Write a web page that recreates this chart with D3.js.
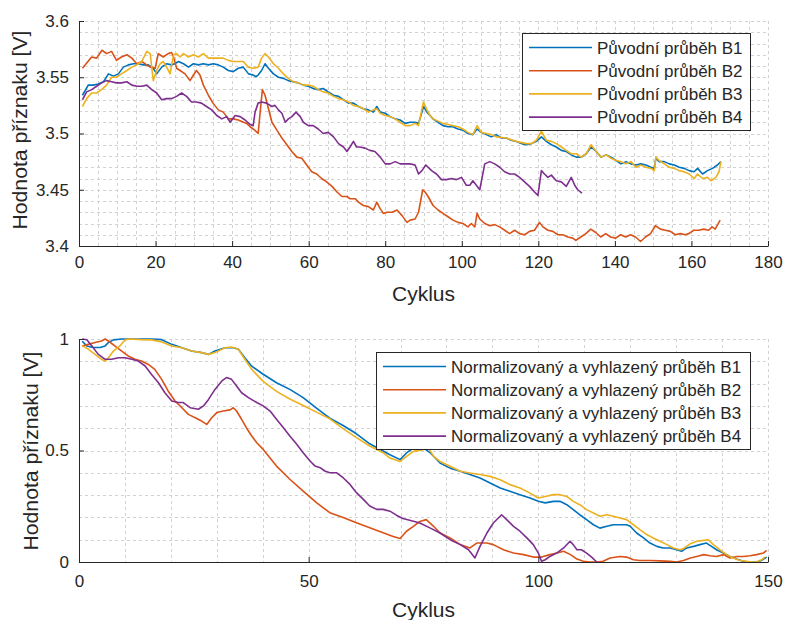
<!DOCTYPE html>
<html>
<head>
<meta charset="utf-8">
<script src="https://cdn.jsdelivr.net/npm/d3@7"></script>
<style>
  body { margin: 0; background: #fff; }
  text { font-family: "Liberation Sans", Arial, Helvetica, sans-serif; fill: #262626; }
</style>
</head>
<body>
<svg id="chart" width="785" height="620"></svg>
<script>
// series colours (MATLAB default order)
var colors = ['#0072BD', '#D95319', '#EDB120', '#7E2F8E'];

// ---- top panel: raw curves, [cycle, value] ----
var rawB1 = [[0.9,3.534],[1.6,3.538],[2.4,3.543],[3.7,3.543],[5,3.544],[6.4,3.546],[7.7,3.553],[9,3.551],[10.3,3.553],[11.6,3.559],[12.9,3.561],[14.2,3.562],[15.5,3.562],[16.8,3.561],[18.1,3.561],[19.4,3.558],[20.3,3.553],[21.6,3.559],[22.9,3.562],[24.2,3.561],[25,3.562],[26,3.564],[27.3,3.562],[28.6,3.559],[29.9,3.562],[31.2,3.561],[32.5,3.562],[33.8,3.561],[35.1,3.562],[36.4,3.561],[37.7,3.559],[39,3.556],[40.3,3.555],[41.6,3.558],[42.9,3.559],[44.3,3.553],[45.5,3.552],[46.3,3.5505],[46.8,3.552],[47.7,3.556],[48.6,3.562],[49.5,3.558],[50.8,3.553],[52.1,3.55],[53.4,3.549],[54.7,3.547],[56,3.546],[57.3,3.545],[58.6,3.543],[59.9,3.542],[61.2,3.54],[62.5,3.539],[63.8,3.54],[65.1,3.537],[66.5,3.534],[67.8,3.533],[69.1,3.53],[70.4,3.527],[71.7,3.527],[73,3.524],[74.3,3.522],[75.6,3.521],[76.9,3.519],[77.8,3.524],[78.7,3.519],[80,3.518],[81.3,3.515],[82.6,3.513],[83.9,3.512],[85.2,3.509],[86.5,3.51],[87.8,3.51],[88.7,3.509],[89.6,3.519],[90,3.524],[90.9,3.519],[91.7,3.516],[92.5,3.513],[93.8,3.51],[95.1,3.507],[96.4,3.506],[97.7,3.506],[99,3.504],[100.3,3.503],[101.6,3.5],[102.9,3.499],[104,3.504],[105.1,3.501],[106.4,3.499],[107.7,3.497],[109,3.499],[110.3,3.496],[111.6,3.496],[112.9,3.494],[114.2,3.493],[115.6,3.491],[116.9,3.49],[118.2,3.491],[119.5,3.493],[120.8,3.497],[122.1,3.493],[123.4,3.49],[124.7,3.488],[126,3.485],[127.3,3.484],[128.6,3.481],[129.9,3.479],[131.2,3.479],[132.5,3.482],[133.8,3.488],[135.1,3.484],[136.4,3.479],[137.7,3.481],[139,3.479],[140.3,3.476],[141.6,3.473],[142.9,3.475],[144.2,3.473],[145.5,3.472],[146.8,3.473],[148.1,3.472],[149.4,3.47],[150.3,3.469],[150.7,3.478],[151.6,3.475],[152.9,3.475],[154.2,3.473],[155.5,3.472],[156.8,3.47],[158.1,3.469],[159.4,3.467],[160.7,3.466],[161.6,3.469],[162.9,3.464],[164.2,3.467],[165.5,3.469],[166.8,3.472],[167.7,3.475]];
var rawB2 = [[0.9,3.558],[3.3,3.568],[4.6,3.567],[6,3.574],[7.2,3.571],[8.5,3.573],[9.8,3.565],[11.1,3.568],[12.5,3.57],[13.8,3.567],[15.1,3.562],[16.4,3.564],[17.7,3.561],[18.6,3.559],[19.9,3.558],[20.7,3.571],[22,3.568],[23.3,3.571],[24.2,3.572],[24.8,3.567],[25.5,3.558],[26.4,3.556],[27.7,3.553],[29,3.547],[29.9,3.552],[30.7,3.556],[31.6,3.552],[32.5,3.543],[33.8,3.534],[35,3.527],[36.4,3.521],[37.7,3.519],[39,3.513],[40.3,3.513],[41.6,3.512],[43,3.51],[43.8,3.509],[44.7,3.506],[45.9,3.503],[46.8,3.5],[47.9,3.539],[48.6,3.534],[49.5,3.522],[50.4,3.51],[51.7,3.503],[53,3.496],[54.3,3.49],[55.6,3.484],[56.9,3.479],[58.2,3.478],[59.5,3.472],[60.8,3.466],[62.1,3.464],[63.4,3.46],[64.7,3.457],[66.1,3.453],[67.4,3.448],[68.7,3.444],[70,3.444],[70.8,3.442],[72.2,3.442],[73,3.439],[74.3,3.436],[75.6,3.435],[76.9,3.432],[77.8,3.439],[78.7,3.433],[79.5,3.429],[80.5,3.43],[81.8,3.43],[83.1,3.432],[84.4,3.427],[85.7,3.421],[86.5,3.423],[87.8,3.424],[88.7,3.43],[89.8,3.45],[90.4,3.448],[91.2,3.444],[92.5,3.436],[93.8,3.432],[95.1,3.429],[96.4,3.426],[97.7,3.423],[99,3.421],[100.3,3.42],[101.6,3.417],[102.5,3.42],[103.4,3.417],[104,3.429],[104.7,3.424],[106,3.42],[107.3,3.418],[108.6,3.419],[109.9,3.417],[111.2,3.414],[112.5,3.411],[113.8,3.414],[115.1,3.411],[116.4,3.41],[117.7,3.413],[119,3.414],[120.3,3.421],[121.2,3.417],[122.5,3.414],[123.8,3.413],[125.1,3.41],[126.4,3.41],[127.7,3.408],[129,3.407],[129.8,3.405],[131.1,3.408],[132.4,3.411],[133.7,3.415],[135,3.412],[136.3,3.408],[137.6,3.411],[138.9,3.408],[140.2,3.407],[141.5,3.41],[142.8,3.408],[144.1,3.41],[145.4,3.408],[146.7,3.404],[148,3.408],[149.3,3.411],[150.6,3.418],[151.9,3.415],[153.2,3.414],[154.5,3.413],[155.8,3.41],[157.1,3.411],[158.4,3.41],[159.3,3.411],[160.6,3.414],[161.9,3.414],[163.2,3.415],[164.5,3.414],[165.4,3.417],[166.2,3.415],[167.5,3.423]];
var rawB3 = [[0.9,3.524],[2,3.531],[3.3,3.536],[4.6,3.536],[5.9,3.539],[7.2,3.543],[8.5,3.55],[9.8,3.55],[11.1,3.553],[12.5,3.556],[13.8,3.559],[15.1,3.561],[16.4,3.564],[17.7,3.573],[18.6,3.571],[19.4,3.547],[20.3,3.556],[21.2,3.562],[22,3.564],[22.9,3.559],[23.8,3.553],[24.7,3.57],[25.5,3.571],[26.4,3.568],[27.3,3.571],[28.6,3.568],[29.9,3.57],[31.2,3.568],[32.5,3.571],[33.8,3.567],[35.1,3.567],[36.4,3.567],[37.7,3.567],[39,3.565],[40.3,3.564],[41.6,3.564],[42.9,3.564],[44.2,3.559],[45.5,3.558],[46.8,3.559],[47.7,3.567],[48.6,3.571],[49.5,3.568],[50.8,3.562],[52.1,3.558],[53.4,3.553],[54.7,3.549],[56,3.546],[57.3,3.545],[58.6,3.543],[59.9,3.543],[61.2,3.542],[62.5,3.539],[63.8,3.537],[65.1,3.536],[66.5,3.533],[67.8,3.531],[69.1,3.53],[70.4,3.528],[71.7,3.525],[73,3.524],[74.3,3.522],[75.6,3.519],[76.9,3.521],[77.8,3.522],[78.7,3.518],[80,3.516],[81.3,3.515],[82.6,3.513],[83.9,3.51],[85.2,3.507],[86.5,3.507],[87.8,3.509],[88.7,3.507],[89.6,3.522],[90,3.528],[90.9,3.521],[91.7,3.516],[92.5,3.513],[95.1,3.509],[99,3.506],[100.3,3.504],[101.6,3.501],[102.9,3.499],[104,3.507],[105.1,3.501],[106.4,3.5],[107.7,3.499],[109,3.497],[111.6,3.496],[114.2,3.493],[116.9,3.491],[118.2,3.491],[119.5,3.494],[120.8,3.502],[122.1,3.494],[123.4,3.493],[124.7,3.491],[126,3.488],[127.3,3.485],[128.6,3.482],[129.9,3.482],[131.2,3.479],[132.5,3.482],[133.8,3.49],[135.1,3.484],[136.4,3.479],[137.7,3.481],[139,3.478],[140.3,3.476],[141.6,3.475],[142.9,3.473],[144.2,3.475],[145.5,3.47],[146.8,3.472],[148.1,3.47],[149.4,3.469],[150.3,3.467],[150.7,3.479],[151.6,3.476],[152.9,3.473],[154.2,3.47],[155.5,3.469],[156.8,3.467],[158.1,3.466],[159.4,3.464],[160.7,3.46],[161.6,3.464],[162.9,3.46],[164.2,3.461],[165.1,3.458],[166.4,3.461],[167.2,3.466],[167.7,3.475]];
var rawB4 = [[0.9,3.53],[2,3.537],[3.3,3.539],[4.6,3.542],[5.9,3.545],[7.2,3.547],[8.5,3.546],[9.8,3.545],[11.1,3.545],[12.5,3.546],[13.8,3.543],[15.1,3.542],[16.4,3.542],[17.7,3.543],[19,3.539],[20.3,3.536],[21.6,3.53],[22.9,3.531],[24.2,3.531],[25.5,3.533],[26.8,3.536],[28.1,3.533],[29.4,3.528],[30.7,3.528],[32,3.527],[33.3,3.524],[34.7,3.521],[36,3.516],[37.3,3.513],[38.6,3.515],[39.5,3.51],[40.8,3.516],[42.1,3.515],[43.4,3.512],[44.7,3.508],[45.5,3.507],[46,3.519],[46.8,3.527],[47.7,3.528],[49,3.527],[50.4,3.524],[51.2,3.525],[52.1,3.521],[53,3.518],[53.9,3.51],[54.7,3.513],[55.6,3.515],[56.7,3.519],[57.8,3.515],[58.6,3.51],[59.9,3.507],[61.2,3.507],[62.5,3.504],[63.8,3.5],[65.1,3.501],[66.5,3.497],[67.8,3.491],[69.1,3.488],[70,3.484],[70.8,3.488],[71.7,3.493],[72.5,3.488],[73.4,3.488],[74.7,3.487],[76,3.485],[77.3,3.484],[78.7,3.479],[80,3.473],[81.3,3.473],[82.6,3.475],[83.9,3.473],[85.2,3.473],[86.5,3.473],[87.8,3.472],[88.7,3.464],[89.6,3.467],[90.6,3.472],[92.1,3.467],[93.4,3.464],[94.7,3.459],[96,3.459],[97.3,3.46],[98.6,3.459],[99.9,3.461],[101.2,3.454],[102.1,3.454],[102.9,3.458],[103.8,3.454],[104.7,3.45],[106,3.473],[107.3,3.475],[108.6,3.473],[109.9,3.47],[111.2,3.466],[112.5,3.464],[113.8,3.464],[115.1,3.461],[116.4,3.457],[117.7,3.453],[119,3.448],[119.9,3.445],[120.8,3.467],[121.6,3.464],[122.5,3.461],[123.4,3.463],[124.7,3.458],[126,3.457],[127.3,3.453],[128.6,3.461],[129.5,3.454],[130.3,3.45],[131.4,3.447]];
var rawNames = ['Původní průběh B1', 'Původní průběh B2', 'Původní průběh B3', 'Původní průběh B4'];
var rawXTicks = [0, 20, 40, 60, 80, 100, 120, 140, 160, 180];
var rawYTicks = [3.4, 3.45, 3.5, 3.55, 3.6];

// ---- bottom panel: normalised + smoothed curves, [cycle, value] ----
var normB1 = [[0.7,0.99],[1.7,0.969],[3.1,0.962],[4.6,0.962],[5.7,0.969],[6.4,0.984],[7.5,0.996],[9.3,1],[11.5,1],[13.6,1],[15.8,1],[18,0.997],[20.2,0.976],[22.4,0.961],[24.5,0.946],[26.7,0.939],[28.2,0.931],[29.6,0.946],[31.8,0.961],[33.6,0.961],[34.7,0.954],[36.1,0.916],[37.6,0.878],[40.1,0.842],[43,0.804],[45.9,0.774],[48.8,0.737],[51.7,0.69],[54.6,0.645],[57.5,0.612],[60.4,0.575],[63.3,0.53],[66.2,0.498],[67.7,0.481],[69.9,0.459],[71.3,0.489],[72.8,0.511],[75,0.511],[76.5,0.489],[78.6,0.444],[80.8,0.421],[83,0.407],[85.1,0.392],[87.3,0.377],[89.5,0.354],[91.7,0.332],[93.8,0.317],[96,0.302],[98.2,0.287],[100,0.272],[101.5,0.265],[103.3,0.272],[104.7,0.272],[106.2,0.257],[107.6,0.235],[109,0.212],[110.5,0.19],[112,0.167],[113.4,0.152],[114.9,0.16],[116.3,0.167],[117.8,0.167],[119.2,0.167],[120,0.16],[121.4,0.13],[122.9,0.108],[124.3,0.085],[125.8,0.07],[127.2,0.063],[128.7,0.063],[130.1,0.055],[131.2,0.048],[132.3,0.063],[133.8,0.07],[135.2,0.078],[136.6,0.085],[137.7,0.07],[138.8,0.055],[140.3,0.04],[141.7,0.025],[143.2,0.013],[144.6,0.003],[146.1,0],[147.5,0],[148.6,0.007],[149.7,0.022]];
var normB2 = [[0.7,0.969],[2,0.976],[3.5,0.984],[4.9,0.991],[5.7,1],[6.4,0.991],[7.8,0.969],[9.3,0.946],[10.7,0.924],[12.2,0.909],[13.6,0.901],[15.1,0.886],[16.5,0.864],[18,0.819],[19.4,0.767],[20.9,0.722],[22.4,0.692],[23.8,0.662],[25.3,0.647],[26.7,0.632],[27.8,0.617],[28.9,0.647],[30,0.67],[31.4,0.677],[32.9,0.682],[33.6,0.692],[34.3,0.677],[35.4,0.64],[36.5,0.6],[37.6,0.565],[38.7,0.535],[40.1,0.505],[43,0.43],[45.9,0.371],[48.8,0.318],[51.7,0.266],[54.6,0.221],[57.5,0.199],[60.4,0.176],[63.3,0.154],[66.2,0.131],[68.4,0.114],[69.9,0.105],[71.3,0.138],[72.8,0.16],[74.2,0.182],[75.6,0.19],[77.2,0.16],[78.6,0.13],[80.8,0.108],[83,0.078],[85.1,0.063],[86.6,0.085],[88.8,0.085],[90.2,0.078],[92.4,0.055],[94.6,0.04],[96.8,0.033],[98.9,0.022],[100.7,0.022],[102.5,0.033],[104.1,0.04],[105.5,0.048],[107,0.033],[108.4,0.013],[109.8,0.003],[111.2,0],[112.7,0],[114.1,0.003],[115.6,0.018],[117.8,0.025],[119.2,0.022],[120.7,0.01],[122.1,0.007],[124.3,0.007],[126.5,0.005],[128.7,0.003],[130.1,0],[131.6,0.007],[133.1,0.018],[134.5,0.025],[136,0.033],[137.4,0.028],[138.8,0.025],[140.3,0.033],[141.7,0.018],[143.2,0.025],[144.6,0.025],[146.1,0.028],[147.5,0.033],[149,0.04],[149.7,0.052]];
var normB3 = [[0.7,0.969],[2,0.955],[3.5,0.931],[4.9,0.909],[5.7,0.901],[6.4,0.916],[7.5,0.946],[8.9,0.969],[10,0.996],[11.1,1],[13.6,0.997],[15.8,0.996],[18,0.987],[20.2,0.969],[22.4,0.961],[24.5,0.946],[26.7,0.939],[28.2,0.931],[29.6,0.939],[31.8,0.961],[33.2,0.964],[34.7,0.954],[36.1,0.909],[37.6,0.864],[40.1,0.81],[43,0.765],[45.9,0.731],[48.8,0.702],[51.7,0.672],[54.6,0.642],[57.5,0.598],[60.4,0.558],[63.3,0.52],[66.2,0.49],[67.7,0.466],[69.9,0.451],[71.3,0.474],[72.8,0.496],[75,0.504],[76.1,0.511],[77.2,0.474],[78.6,0.451],[80.8,0.429],[83,0.407],[85.1,0.399],[87.3,0.392],[89.5,0.384],[91.7,0.369],[93.8,0.347],[96,0.332],[98.2,0.309],[100,0.287],[101.5,0.294],[103.3,0.302],[104.7,0.302],[106.2,0.294],[107.6,0.272],[109,0.257],[110.5,0.235],[112,0.22],[113.4,0.205],[114.9,0.212],[116.3,0.205],[117.8,0.197],[119.2,0.19],[120.7,0.167],[122.1,0.145],[123.6,0.123],[125,0.108],[126.5,0.093],[128,0.078],[129.4,0.063],[130.8,0.055],[131.6,0.06],[133.1,0.082],[134.5,0.093],[136,0.097],[137,0.1],[138.1,0.078],[139.5,0.055],[141,0.033],[142.4,0.018],[143.9,0.007],[145.3,0.003],[146.7,0],[147.5,0],[148.6,0.01],[149.3,0.022]];
var normB4 = [[0.7,1],[1.7,0.997],[2.8,0.969],[4.2,0.931],[5.7,0.909],[7.1,0.909],[8.6,0.916],[10,0.916],[11.5,0.909],[12.9,0.901],[14.4,0.879],[15.8,0.841],[17.3,0.804],[18.7,0.759],[20.2,0.722],[21.6,0.715],[22.7,0.715],[24.2,0.692],[26,0.685],[27.1,0.7],[28.2,0.729],[29.6,0.774],[31.1,0.812],[32.1,0.827],[33.2,0.819],[34.3,0.789],[35.4,0.759],[36.9,0.737],[38.7,0.715],[40.1,0.7],[41.6,0.677],[43,0.64],[44.5,0.602],[45.9,0.565],[47.4,0.528],[48.8,0.49],[50.3,0.453],[51.4,0.43],[52.5,0.423],[53.5,0.408],[54.6,0.4],[56.1,0.4],[57.5,0.378],[59,0.348],[60.4,0.311],[61.9,0.281],[63.3,0.251],[64.8,0.236],[66.2,0.236],[67.7,0.228],[69.1,0.21],[70.5,0.195],[72,0.187],[74.2,0.175],[76.5,0.152],[78.6,0.13],[80.8,0.1],[83,0.078],[84.8,0.055],[86.2,0.018],[87.3,0.07],[88.8,0.13],[90.2,0.175],[92,0.212],[93.1,0.19],[94.6,0.16],[96,0.138],[97.5,0.108],[98.9,0.078],[100,0.04],[100.7,0.003],[101.5,0.01],[102.5,0.025],[104,0.04],[105.5,0.063],[106.9,0.093],[107.6,0.078],[108.4,0.055],[109.4,0.055],[110.5,0.04],[111.6,0.022],[112.7,0]];
var normNames = ['Normalizovaný a vyhlazený průběh B1', 'Normalizovaný a vyhlazený průběh B2',
                 'Normalizovaný a vyhlazený průběh B3', 'Normalizovaný a vyhlazený průběh B4'];
var normXTicks = [0, 50, 100, 150];
var normYTicks = [0, 0.5, 1];

var svg = d3.select('#chart');
svg.append('rect').attr('width', 785).attr('height', 620).attr('fill', '#fff');

function drawPanel(opt) {
    var x = d3.scaleLinear().domain(opt.xDomain).range([79, 768]);
    var y = d3.scaleLinear().domain(opt.yDomain).range([opt.bottom, opt.top]);
    var g = svg.append('g');

    // dashed grid, minor and major look alike
    var grid = g.append('g').attr('stroke', '#d2d2d2').attr('stroke-width', 1).attr('stroke-dasharray', '3,3');
    grid.selectAll('line.v').data(opt.xGrid).enter().append('line')
        .attr('x1', function (d) { return Math.round(x(d)) + 0.5; })
        .attr('x2', function (d) { return Math.round(x(d)) + 0.5; })
        .attr('y1', opt.top).attr('y2', opt.bottom);
    grid.selectAll('line.h').data(opt.yGrid).enter().append('line')
        .attr('y1', function (d) { return Math.round(y(d)) + 0.5; })
        .attr('y2', function (d) { return Math.round(y(d)) + 0.5; })
        .attr('x1', 79).attr('x2', 768);

    // curves
    var line = d3.line().x(function (d) { return x(d[0]); }).y(function (d) { return y(d[1]); });
    g.selectAll('path.series').data(opt.series).enter().append('path')
        .attr('fill', 'none').attr('stroke-width', 1.6).attr('stroke-linejoin', 'round')
        .attr('stroke', function (d, i) { return colors[i]; })
        .attr('d', line);

    // axes, ticks pointing inwards
    var xAxis = d3.axisBottom(x).tickValues(opt.xTicks).tickSize(-5).tickSizeOuter(0).tickPadding(opt.xPad);
    var yAxis = d3.axisLeft(y).tickValues(opt.yTicks).tickSize(-5).tickSizeOuter(0).tickPadding(10)
        .tickFormat(function (d) { return String(+d.toFixed(2)); });
    var gx = g.append('g').attr('transform', 'translate(0,' + opt.bottom + ')').call(xAxis);
    var gy = g.append('g').attr('transform', 'translate(79,0)').call(yAxis);
    [gx, gy].forEach(function (a) {
        a.select('.domain').attr('stroke', '#262626');
        a.selectAll('.tick line').attr('stroke', '#262626');
        a.selectAll('.tick text').attr('fill', '#262626').attr('font-size', 17)
            .attr('font-family', '"Liberation Sans", Arial, sans-serif');
    });

    g.append('text').attr('x', 423.5).attr('y', opt.xLabelY).attr('text-anchor', 'middle')
        .attr('font-size', 21).text('Cyklus');
    g.append('text').attr('transform', 'translate(' + opt.yLabelX + ',' + opt.yLabelMid + ') rotate(-90)')
        .attr('text-anchor', 'middle').attr('font-size', 20)
        .attr('textLength', 199).attr('lengthAdjust', 'spacingAndGlyphs')
        .text('Hodnota příznaku [V]');

    // legend
    var lg = g.append('g');
    lg.append('rect').attr('x', opt.legend.x + 0.5).attr('y', opt.legend.y + 0.5)
        .attr('width', opt.legend.w).attr('height', opt.legend.h)
        .attr('fill', '#fff').attr('stroke', '#262626').attr('stroke-width', 1);
    opt.names.forEach(function (name, i) {
        var ry = opt.legend.y + 14.5 + i * 23.2;
        lg.append('line').attr('x1', opt.legend.x + 7).attr('x2', opt.legend.x + 70)
            .attr('y1', ry).attr('y2', ry).attr('stroke', colors[i]).attr('stroke-width', 1.6);
        lg.append('text').attr('x', opt.legend.x + 75).attr('y', ry + 6)
            .attr('font-size', 17).text(name);
    });
}

drawPanel({
    xDomain: [0, 180], yDomain: [3.4, 3.6], top: 21, bottom: 246,
    xGrid: d3.range(0, 181, 5), yGrid: d3.range(0, 21).map(function (i) { return 3.4 + i * 0.01; }),
    xTicks: rawXTicks, yTicks: rawYTicks, xPad: 10,
    series: [rawB1, rawB2, rawB3, rawB4], names: rawNames,
    xLabelY: 301, yLabelX: 27, yLabelMid: 130,
    legend: { x: 522, y: 33, w: 228, h: 97 }
});

drawPanel({
    xDomain: [0, 150], yDomain: [0, 1], top: 339, bottom: 562,
    xGrid: d3.range(0, 151, 10), yGrid: d3.range(0, 11).map(function (i) { return i / 10; }),
    xTicks: normXTicks, yTicks: normYTicks, xPad: 13,
    series: [normB1, normB2, normB3, normB4], names: normNames,
    xLabelY: 617, yLabelX: 38, yLabelMid: 451,
    legend: { x: 376, y: 352, w: 374, h: 97 }
});
</script>
</body>
</html>
